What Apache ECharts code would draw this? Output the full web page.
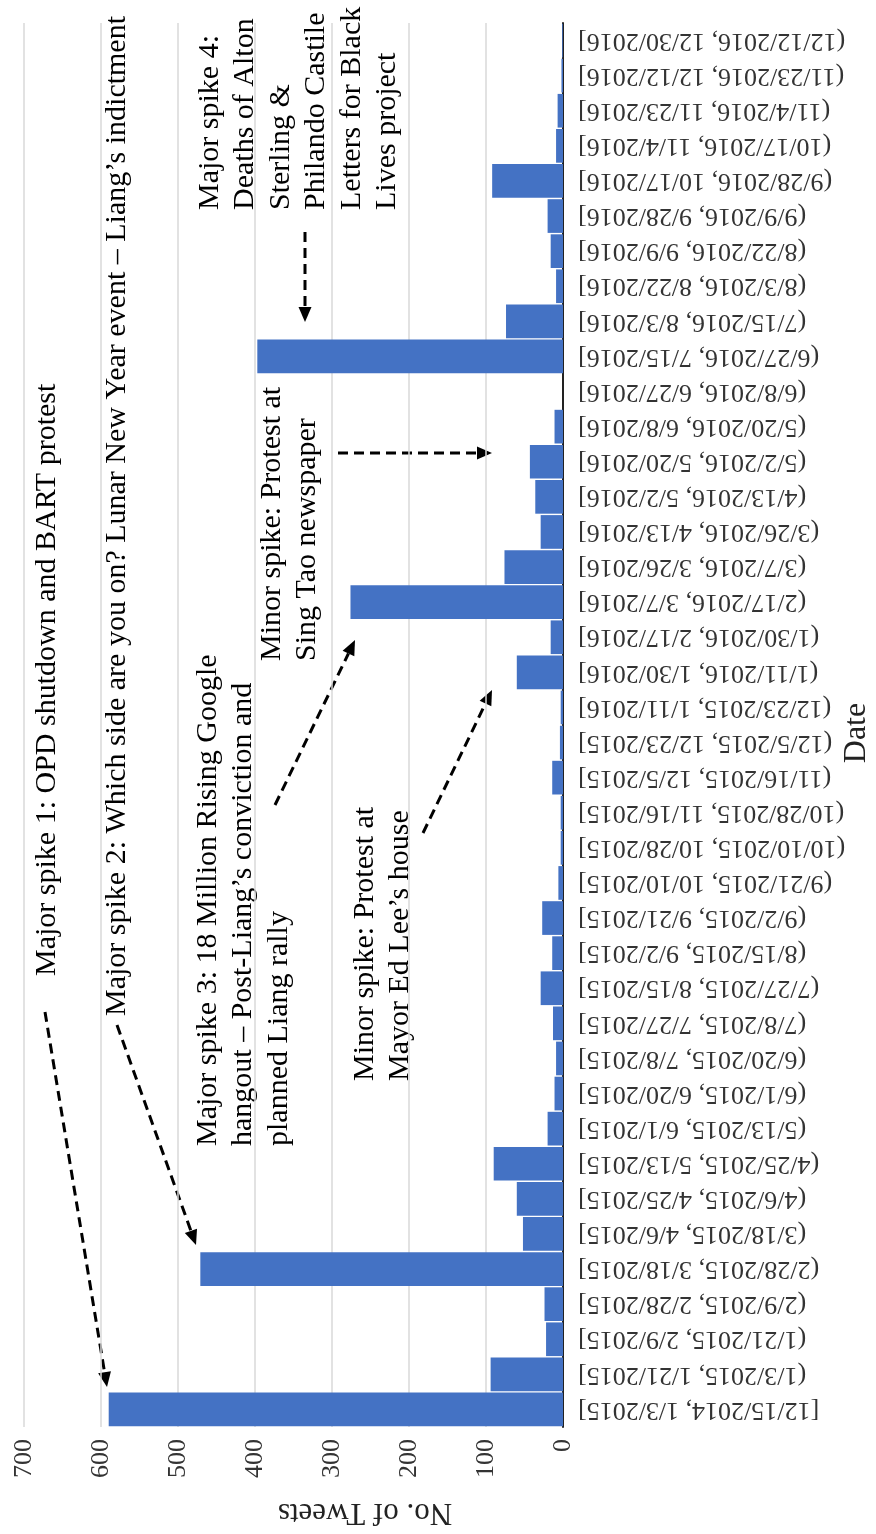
<!DOCTYPE html>
<html>
<head>
<meta charset="utf-8">
<script src="https://cdn.jsdelivr.net/npm/echarts@6/dist/echarts.min.js"></script>
<style>
  html, body { margin: 0; padding: 0; background: #ffffff; }
  #chart { width: 876px; height: 1534px; }
</style>
</head>
<body>
<div id="chart"></div>
<script>
// Histogram bins (dates) and number of tweets per bin
const categories = [
  '[12/15/2014, 1/3/2015]', '(1/3/2015, 1/21/2015]', '(1/21/2015, 2/9/2015]',
  '(2/9/2015, 2/28/2015]', '(2/28/2015, 3/18/2015]', '(3/18/2015, 4/6/2015]',
  '(4/6/2015, 4/25/2015]', '(4/25/2015, 5/13/2015]', '(5/13/2015, 6/1/2015]',
  '(6/1/2015, 6/20/2015]', '(6/20/2015, 7/8/2015]', '(7/8/2015, 7/27/2015]',
  '(7/27/2015, 8/15/2015]', '(8/15/2015, 9/2/2015]', '(9/2/2015, 9/21/2015]',
  '(9/21/2015, 10/10/2015]', '(10/10/2015, 10/28/2015]', '(10/28/2015, 11/16/2015]',
  '(11/16/2015, 12/5/2015]', '(12/5/2015, 12/23/2015]', '(12/23/2015, 1/11/2016]',
  '(1/11/2016, 1/30/2016]', '(1/30/2016, 2/17/2016]', '(2/17/2016, 3/7/2016]',
  '(3/7/2016, 3/26/2016]', '(3/26/2016, 4/13/2016]', '(4/13/2016, 5/2/2016]',
  '(5/2/2016, 5/20/2016]', '(5/20/2016, 6/8/2016]', '(6/8/2016, 6/27/2016]',
  '(6/27/2016, 7/15/2016]', '(7/15/2016, 8/3/2016]', '(8/3/2016, 8/22/2016]',
  '(8/22/2016, 9/9/2016]', '(9/9/2016, 9/28/2016]', '(9/28/2016, 10/17/2016]',
  '(10/17/2016, 11/4/2016]', '(11/4/2016, 11/23/2016]', '(11/23/2016, 12/12/2016]',
  '(12/12/2016, 12/30/2016]'
];
const tweetCounts = [
  590, 94, 22, 24, 471, 52, 60, 90, 20, 11,
  9, 13, 29, 14, 27, 6, 3, 3, 14, 4,
  3, 60, 16, 276, 76, 29, 36, 43, 11, 0,
  397, 74, 9, 16, 20, 92, 9, 7, 2, 1
];
const valueAxisMax = 700;
const valueAxisStep = 100;
const valueAxisTitle = 'No. of Tweets';
const categoryAxisTitle = 'Date';

// Event annotations: text lines, anchor (left edge of first line, start of text)
const annotations = [
  { lines: ['Major spike 1: OPD shutdown and BART protest'], x: 29, y: 976 },
  { lines: ['Major spike 2: Which side are you on? Lunar New Year event \u2013 Liang\u2019s indictment'], x: 99, y: 1016 },
  { lines: ['Major spike 3: 18 Million Rising Google', 'hangout \u2013 Post-Liang\u2019s conviction and', 'planned Liang rally'], x: 190, y: 1146 },
  { lines: ['Minor spike: Protest at', 'Mayor Ed Lee\u2019s house'], x: 347, y: 1081 },
  { lines: ['Minor spike: Protest at', 'Sing Tao newspaper'], x: 254, y: 661 },
  { lines: ['Major spike 4:', 'Deaths of Alton', 'Sterling &', 'Philando Castile', 'Letters for Black', 'Lives project'], x: 192, y: 210 }
];
// Dashed arrows: tail -> tip
const arrows = [
  [45, 1012, 107, 1387],
  [117, 1025, 196, 1245],
  [275, 805, 355, 640],
  [423, 833, 492, 690],
  [338, 453, 492, 453],
  [305, 232, 305, 322]
];

const serif = '"Liberation Serif", "Times New Roman", serif';
const LINE_H = 35.5;

function arrowGraphic(a) {
  const [x1, y1, x2, y2] = a;
  const dx = x2 - x1, dy = y2 - y1;
  const len = Math.sqrt(dx * dx + dy * dy);
  const ux = dx / len, uy = dy / len;
  const nx = -uy, ny = ux;
  const headL = 15, headW = 13;
  const bx = x2 - ux * headL, by = y2 - uy * headL;
  return {
    type: 'group',
    children: [
      { type: 'line', shape: { x1: x1, y1: y1, x2: bx, y2: by },
        style: { stroke: '#000', lineWidth: 3, lineDash: [10, 6] } },
      { type: 'polygon',
        shape: { points: [[x2, y2], [bx + nx * headW / 2, by + ny * headW / 2], [bx - nx * headW / 2, by - ny * headW / 2]] },
        style: { fill: '#000' } }
    ]
  };
}

const graphics = [];
annotations.forEach(function (an) {
  graphics.push({
    type: 'text', x: an.x, y: an.y, rotation: Math.PI / 2,
    style: {
      text: an.lines.join('\n'), font: '30px ' + serif, fill: '#000',
      textAlign: 'left', textVerticalAlign: 'top', lineHeight: LINE_H
    }
  });
});
arrows.forEach(function (a) { graphics.push(arrowGraphic(a)); });
graphics.push({
  type: 'text', x: 365, y: 1512, rotation: Math.PI,
  style: { text: valueAxisTitle, font: '31px ' + serif, fill: '#222', textAlign: 'center', textVerticalAlign: 'middle' }
});
graphics.push({
  type: 'text', x: 857, y: 733, rotation: Math.PI / 2,
  style: { text: categoryAxisTitle, font: '32px ' + serif, fill: '#222', textAlign: 'center', textVerticalAlign: 'middle' }
});

const chart = echarts.init(document.getElementById('chart'), null, { renderer: 'canvas' });
chart.setOption({
  backgroundColor: '#ffffff',
  animation: false,
  grid: { left: 24, right: 313, top: 23, bottom: 107, containLabel: false },
  xAxis: {
    type: 'value', min: 0, max: valueAxisMax, interval: valueAxisStep, inverse: true, position: 'bottom',
    axisLine: { show: false }, axisTick: { show: false },
    splitLine: { show: true, lineStyle: { color: '#d9d9d9', width: 1.5 } },
    axisLabel: { rotate: 90, margin: 12, fontFamily: serif, fontSize: 26, color: '#333' }
  },
  yAxis: {
    type: 'category', data: categories, position: 'right',
    axisLine: { show: true, lineStyle: { color: '#222', width: 2 } },
    axisTick: { show: false },
    axisLabel: { rotate: 180, margin: 15, fontFamily: serif, fontSize: 26, color: '#333', interval: 0 }
  },
  series: [{
    type: 'bar', data: tweetCounts, barCategoryGap: '4%',
    itemStyle: { color: '#4472C4' }
  }],
  graphic: graphics
});
</script>
</body>
</html>
